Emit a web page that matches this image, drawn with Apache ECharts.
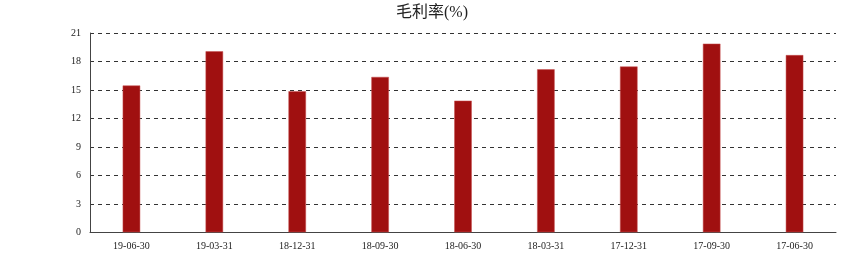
<!DOCTYPE html>
<html>
<head>
<meta charset="utf-8">
<script src="https://cdn.jsdelivr.net/npm/echarts@6/dist/echarts.min.js"></script>
<style>html,body{margin:0;padding:0;background:#fff;}#c{width:864px;height:262px;}</style>
</head>
<body>
<div id="c"></div>
<script>
const categories = ['19-06-30','19-03-31','18-12-31','18-09-30','18-06-30','18-03-31','17-12-31','17-09-30','17-06-30'];
const grossMargin = [15.5, 19.1, 14.9, 16.4, 13.9, 17.2, 17.5, 19.9, 18.7];
const titleText = '毛利率(%)';

const chart = echarts.init(document.getElementById('c'), null, {renderer: 'canvas'});
chart.setOption({
  animation: false,
  backgroundColor: '#ffffff',
  title: {
    text: titleText,
    left: 'center',
    top: 0,
    textStyle: {fontFamily: '"Liberation Serif", "Noto Sans CJK SC", serif', fontSize: 16, fontWeight: 'normal', color: '#222'}
  },
  grid: {left: 90, right: 28, top: 33, bottom: 29.5},
  xAxis: {
    type: 'category',
    data: categories,
    axisLine: {lineStyle: {color: '#444', width: 1}},
    axisTick: {show: false},
    axisLabel: {fontFamily: '"Liberation Serif", serif', fontSize: 10, color: '#222', margin: 9}
  },
  yAxis: {
    type: 'value',
    min: 0, max: 21, interval: 3,
    axisLine: {show: true, lineStyle: {color: '#444', width: 1}},
    axisTick: {show: false},
    axisLabel: {fontFamily: '"Liberation Serif", serif', fontSize: 10, color: '#222', margin: 9},
    splitLine: {show: true, lineStyle: {color: '#333', type: [4, 4], width: 1}}
  },
  series: [{
    type: 'bar',
    data: grossMargin,
    barWidth: 18,
    itemStyle: {color: '#a01010', borderColor: 'rgba(200,80,80,0.5)', borderWidth: 1}
  }]
});
</script>
</body>
</html>
